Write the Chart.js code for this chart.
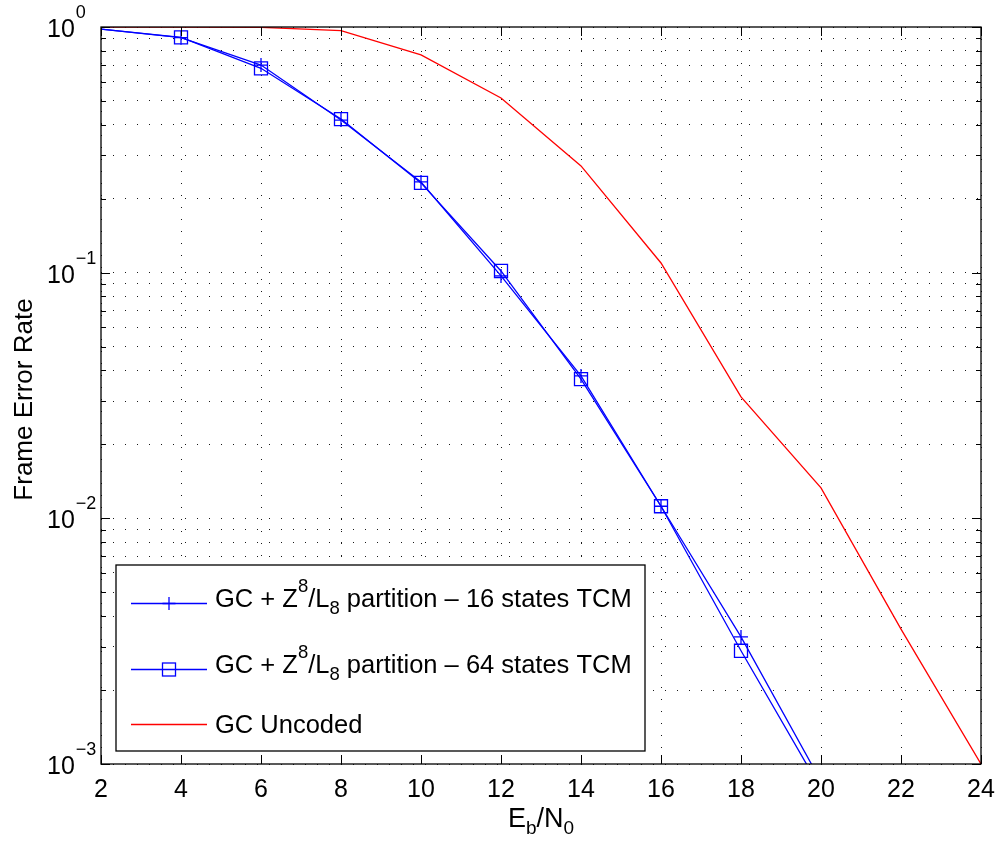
<!DOCTYPE html>
<html>
<head>
<meta charset="utf-8">
<script src="https://cdn.jsdelivr.net/npm/chart.js@4.4.1/dist/chart.umd.min.js"></script>
<style>
  html, body { margin: 0; padding: 0; background: #ffffff; }
  #wrap { width: 998px; height: 844px; position: relative; }
</style>
</head>
<body>
<div id="wrap"><canvas id="c" width="998" height="844"></canvas></div>
<script>
// ---------------- data ----------------
const ebn0 = [2, 4, 6, 8, 10, 12, 14, 16, 18, 20];
const fer16States = [0.98, 0.905, 0.70, 0.418, 0.234, 0.097, 0.038, 0.0112, 0.00329, 0.00085];
const fer64States = [0.98, 0.908, 0.679, 0.422, 0.232, 0.1016, 0.0369, 0.0112, 0.00289, 0.00079];
const ebn0Uncoded = [2, 4, 6, 8, 10, 12, 14, 16, 18, 20, 22, 24];
const ferUncoded = [1.0, 1.0, 0.997, 0.966, 0.77, 0.514, 0.272, 0.1095, 0.0312, 0.0133, 0.00354, 0.001];

const xTickValues = [2, 4, 6, 8, 10, 12, 14, 16, 18, 20, 22, 24];
const yDecadeValues = [0.001, 0.01, 0.1, 1];
const yDecadeExponents = ['\u22123', '\u22122', '\u22121', '0'];
const yMinorMultipliers = [2, 3, 4, 5, 6, 7, 8, 9];

const seriesNames = [
  'GC + Z8/L8 partition \u2013 16 states TCM',
  'GC + Z8/L8 partition \u2013 64 states TCM',
  'GC Uncoded'
];
// rich-text pieces of the legend labels: [text, 'n' normal | 'sup' | 'sub']
const legendPieces = [
  [['GC + Z', 'n'], ['8', 'sup'], ['/L', 'n'], ['8', 'sub'], [' partition \u2013 16 states TCM', 'n']],
  [['GC + Z', 'n'], ['8', 'sup'], ['/L', 'n'], ['8', 'sub'], [' partition \u2013 64 states TCM', 'n']],
  [['GC Uncoded', 'n']]
];
const xTitlePieces = [['E', 'n'], ['b', 'sub'], ['/N', 'n'], ['0', 'sub']];
const yTitle = 'Frame Error Rate';

// ---------------- derived ----------------
const yGridValues = [];
for (let d = 0; d < yDecadeValues.length; d++) {
  yGridValues.push(yDecadeValues[d]);
  if (d < yDecadeValues.length - 1) {
    yMinorMultipliers.forEach(m => yGridValues.push(+(m * yDecadeValues[d]).toPrecision(6)));
  }
}
const toPts = (xs, ys) => xs.map((x, i) => ({ x: x, y: ys[i] }));

const FONT = '"Liberation Sans", Arial, Helvetica, sans-serif';
const BLUE = '#0000ff';
const RED = '#ff0000';

function drawRich(ctx, pieces, x, baseline, mainSize, subSize, align) {
  const widths = pieces.map(p => {
    ctx.font = (p[1] === 'n' ? mainSize : subSize) + 'px ' + FONT;
    return ctx.measureText(p[0]).width;
  });
  const total = widths.reduce((a, b) => a + b, 0);
  let cx = align === 'center' ? x - total / 2 : x;
  ctx.textAlign = 'left';
  ctx.textBaseline = 'alphabetic';
  pieces.forEach((p, i) => {
    let by = baseline;
    if (p[1] === 'sup') by = baseline - 15;
    if (p[1] === 'sub') by = baseline + 7;
    ctx.font = (p[1] === 'n' ? mainSize : subSize) + 'px ' + FONT;
    ctx.fillText(p[0], cx, by);
    cx += widths[i];
  });
}

const matlabAxes = {
  id: 'matlabAxes',
  afterDraw(chart) {
    const { ctx, chartArea: a, scales } = chart;
    const xs = scales.x, ys = scales.y;
    ctx.save();
    // axes box
    ctx.strokeStyle = '#000';
    ctx.lineWidth = 1.3;
    ctx.strokeRect(a.left, a.top, a.right - a.left, a.bottom - a.top);
    // ticks (inward)
    ctx.beginPath();
    xTickValues.forEach(v => {
      const px = Math.round(xs.getPixelForValue(v)) + 0.5;
      ctx.moveTo(px, a.bottom); ctx.lineTo(px, a.bottom - 9);
      ctx.moveTo(px, a.top); ctx.lineTo(px, a.top + 9);
    });
    yGridValues.forEach(v => {
      const py = Math.round(ys.getPixelForValue(v)) + 0.5;
      const len = yDecadeValues.includes(v) ? 9 : 5;
      ctx.moveTo(a.left, py); ctx.lineTo(a.left + len, py);
      ctx.moveTo(a.right, py); ctx.lineTo(a.right - len, py);
    });
    ctx.lineWidth = 1;
    ctx.stroke();

    ctx.fillStyle = '#000';
    // x tick labels
    ctx.font = '25px ' + FONT;
    ctx.textAlign = 'center';
    ctx.textBaseline = 'alphabetic';
    xTickValues.forEach(v => ctx.fillText(String(v), xs.getPixelForValue(v), a.bottom + 33));
    // y tick labels 10^k
    yDecadeValues.forEach((v, i) => {
      const py = ys.getPixelForValue(v);
      ctx.font = '25px ' + FONT;
      ctx.textAlign = 'left';
      ctx.fillText('10', 47, py + 10);
      const w = ctx.measureText('10').width;
      ctx.font = '18px ' + FONT;
      ctx.fillText(yDecadeExponents[i], 47 + w + 1, py - 9);
    });
    // axis titles
    drawRich(ctx, xTitlePieces, (a.left + a.right) / 2, 827, 27, 19, 'center');
    ctx.save();
    ctx.translate(32, (a.top + a.bottom) / 2 + 4);
    ctx.rotate(-Math.PI / 2);
    ctx.font = '26px ' + FONT;
    ctx.textAlign = 'center';
    ctx.textBaseline = 'alphabetic';
    ctx.fillText(yTitle, 0, 0);
    ctx.restore();

    // legend
    const L = { left: 116, top: 565, right: 645, bottom: 751 };
    ctx.fillStyle = '#fff';
    ctx.fillRect(L.left, L.top, L.right - L.left, L.bottom - L.top);
    ctx.strokeStyle = '#000';
    ctx.lineWidth = 1.3;
    ctx.strokeRect(L.left, L.top, L.right - L.left, L.bottom - L.top);
    const rowY = [603, 669, 724];
    const baseOff = [4, 4, 9];
    chart.data.datasets.forEach((ds, i) => {
      const y = rowY[i] + 0.5;
      ctx.strokeStyle = ds.borderColor;
      ctx.lineWidth = 1.3;
      ctx.beginPath();
      ctx.moveTo(131, y); ctx.lineTo(207, y);
      ctx.stroke();
      const mx = 169;
      if (ds.pointStyle === 'cross') {
        ctx.beginPath();
        ctx.moveTo(mx - 6.5, y); ctx.lineTo(mx + 6.5, y);
        ctx.moveTo(mx, y - 6.5); ctx.lineTo(mx, y + 6.5);
        ctx.stroke();
      } else if (ds.pointStyle === 'rect') {
        ctx.strokeRect(mx - 6.5, y - 6.5, 13, 13);
      }
      ctx.fillStyle = '#000';
      drawRich(ctx, legendPieces[i], 215, rowY[i] + baseOff[i], 25.5, 18.5, 'left');
    });
    ctx.restore();
  }
};

const chart = new Chart(document.getElementById('c'), {
  type: 'line',
  data: {
    datasets: [
      {
        label: seriesNames[0],
        data: toPts(ebn0, fer16States),
        borderColor: BLUE, backgroundColor: 'transparent',
        borderWidth: 1.3, pointStyle: 'cross',
        pointRadius: ebn0.map((v, i) => (i === 0 ? 0 : 7)),
        pointBorderWidth: 1.3, pointBorderColor: BLUE,
        tension: 0, clip: 0
      },
      {
        label: seriesNames[1],
        data: toPts(ebn0, fer64States),
        borderColor: BLUE, backgroundColor: 'transparent',
        borderWidth: 1.3, pointStyle: 'rect',
        pointRadius: ebn0.map((v, i) => (i === 0 ? 0 : 9.2)),
        pointBorderWidth: 1.3, pointBorderColor: BLUE, pointBackgroundColor: 'transparent',
        tension: 0, clip: 0
      },
      {
        label: seriesNames[2],
        data: toPts(ebn0Uncoded, ferUncoded),
        borderColor: RED, backgroundColor: 'transparent',
        borderWidth: 1.3, pointRadius: 0,
        tension: 0, clip: 0
      }
    ]
  },
  options: {
    responsive: false,
    devicePixelRatio: 1,
    animation: false,
    events: [],
    layout: { padding: { left: 101, top: 27, right: 17, bottom: 80 } },
    plugins: { legend: { display: false }, tooltip: { enabled: false }, title: { display: false } },
    scales: {
      x: {
        type: 'linear', min: 2, max: 24,
        afterBuildTicks: s => { s.ticks = xTickValues.map(v => ({ value: v })); },
        ticks: { display: false },
        grid: { color: 'rgba(0,0,0,0.9)', lineWidth: 1, drawTicks: false },
        border: { display: false, dash: [1, 11] },
        title: { display: false }
      },
      y: {
        type: 'logarithmic', min: 0.001, max: 1,
        afterBuildTicks: s => { s.ticks = yGridValues.map(v => ({ value: v })); },
        ticks: { display: false },
        grid: { color: 'rgba(0,0,0,0.9)', lineWidth: 1, drawTicks: false },
        border: { display: false, dash: [1, 11] },
        title: { display: false }
      }
    }
  },
  plugins: [matlabAxes]
});
</script>
</body>
</html>
